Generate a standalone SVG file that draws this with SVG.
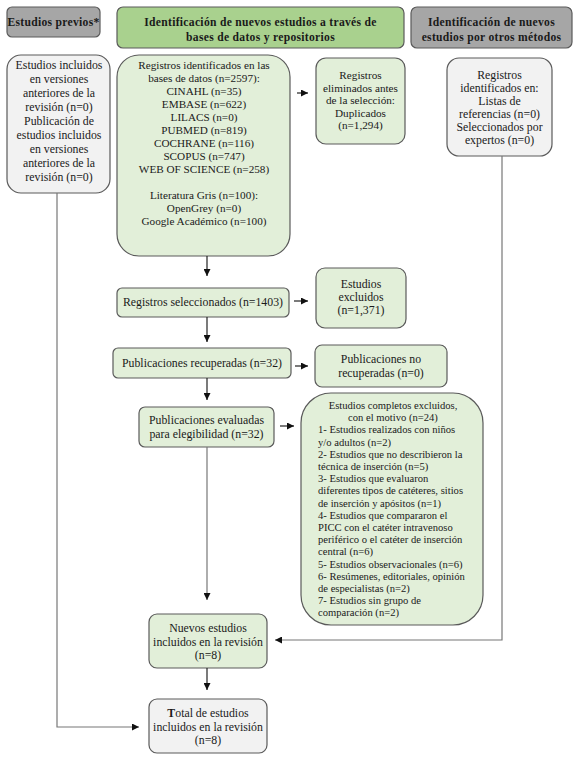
<svg xmlns="http://www.w3.org/2000/svg" width="578" height="757" viewBox="0 0 578 757">
<style>
text{font-family:"Liberation Serif","Times New Roman",serif;font-size:11.8px;fill:#1a1a1a}
.c{text-anchor:middle}
.h{font-weight:bold;font-size:11.6px;letter-spacing:0.3px}
.sm{font-size:10.6px}
.md{font-size:11.2px}
.hg{fill:#a9d18e;stroke:#5a5a5a;stroke-width:1.2}
.hd{fill:#a6a6a6;stroke:#5a5a5a;stroke-width:1.2}
.g{fill:#e2efd9;stroke:#5a5a5a;stroke-width:1.2}
.l{fill:#f2f2f2;stroke:#5a5a5a;stroke-width:1.2}
.cn{fill:none;stroke:#777;stroke-width:1.2}
.ar{fill:none;stroke:#222;stroke-width:1.2}
</style>
<defs>
<marker id="ah" markerUnits="userSpaceOnUse" markerWidth="8" markerHeight="7" refX="7" refY="3.5" orient="auto">
<path d="M0,0 L7,3.5 L0,7 z" fill="#111"/>
</marker>
</defs>
<rect width="578" height="757" fill="#ffffff"/>

<g id="hdr-previos">
<rect class="hd" x="7" y="7" width="93" height="30" rx="5"/>
<text class="c h" x="53.5" y="26">Estudios previos*</text>
</g>
<g id="hdr-bases">
<rect class="hg" x="117" y="7" width="287" height="41" rx="6"/>
<text class="c h" x="260.5" y="26">Identificación de nuevos estudios a través de</text>
<text class="c h" x="260.5" y="41">bases de datos y repositorios</text>
</g>
<g id="hdr-otros">
<rect class="hd" x="411" y="7" width="161" height="41" rx="6"/>
<text class="c h" x="491.5" y="26">Identificación de nuevos</text>
<text class="c h" x="491.5" y="41">estudios por otros métodos</text>
</g>

<g id="previos">
<rect class="l" x="7" y="55" width="103" height="138" rx="14"/>
<text class="c" x="59" y="69">Estudios incluidos</text>
<text class="c" x="59" y="83">en versiones</text>
<text class="c" x="59" y="97">anteriores de la</text>
<text class="c" x="59" y="111">revisión (n=0)</text>
<text class="c" x="59" y="125">Publicación de</text>
<text class="c" x="59" y="139">estudios incluidos</text>
<text class="c" x="59" y="153">en versiones</text>
<text class="c" x="59" y="167">anteriores de la</text>
<text class="c" x="59" y="181">revisión (n=0)</text>
</g>

<g id="identificados">
<rect class="g" x="117" y="55" width="173" height="201" rx="22"/>
<text class="c md" x="204" y="69">Registros identificados en las</text>
<text class="c md" x="204" y="82">bases de datos (n=2597):</text>
<text class="c md" x="204" y="95">CINAHL (n=35)</text>
<text class="c md" x="204" y="108">EMBASE (n=622)</text>
<text class="c md" x="204" y="121">LILACS (n=0)</text>
<text class="c md" x="204" y="134">PUBMED (n=819)</text>
<text class="c md" x="204" y="147">COCHRANE (n=116)</text>
<text class="c md" x="204" y="160">SCOPUS (n=747)</text>
<text class="c md" x="204" y="173">WEB OF SCIENCE (n=258)</text>
<text class="c md" x="204" y="199">Literatura Gris (n=100):</text>
<text class="c md" x="204" y="212">OpenGrey (n=0)</text>
<text class="c md" x="204" y="225">Google Académico (n=100)</text>
</g>

<g id="eliminados">
<rect class="g" x="316" y="58" width="89" height="86" rx="10"/>
<text class="c md" x="360.5" y="79">Registros</text>
<text class="c md" x="360.5" y="91.5">eliminados antes</text>
<text class="c md" x="360.5" y="104">de la selección:</text>
<text class="c md" x="360.5" y="116.5">Duplicados</text>
<text class="c md" x="360.5" y="129">(n=1,294)</text>
</g>

<g id="otros">
<rect class="l" x="447" y="58" width="105" height="98" rx="12"/>
<text class="c" x="499.5" y="79">Registros</text>
<text class="c" x="499.5" y="92">identificados en:</text>
<text class="c" x="499.5" y="105">Listas de</text>
<text class="c" x="499.5" y="118">referencias (n=0)</text>
<text class="c" x="499.5" y="131">Seleccionados por</text>
<text class="c" x="499.5" y="144">expertos (n=0)</text>
</g>

<g id="seleccionados">
<rect class="g" x="117" y="288" width="172" height="29" rx="5"/>
<text class="c" x="203" y="306">Registros seleccionados (n=1403)</text>
</g>

<g id="excluidos">
<rect class="g" x="316" y="268" width="90" height="60" rx="9"/>
<text class="c" x="361" y="288">Estudios</text>
<text class="c" x="361" y="301">excluidos</text>
<text class="c" x="361" y="314">(n=1,371)</text>
</g>

<g id="recuperadas">
<rect class="g" x="113" y="348" width="178" height="30" rx="5"/>
<text class="c" x="202" y="367">Publicaciones recuperadas (n=32)</text>
</g>

<g id="no-recuperadas">
<rect class="g" x="315" y="345" width="132" height="42" rx="7"/>
<text class="c" x="381" y="363">Publicaciones no</text>
<text class="c" x="381" y="377">recuperadas (n=0)</text>
</g>

<g id="evaluadas">
<rect class="g" x="139" y="407" width="135" height="40" rx="6"/>
<text class="c" x="206.5" y="424">Publicaciones evaluadas</text>
<text class="c" x="206.5" y="438">para elegibilidad (n=32)</text>
</g>

<g id="completos-excluidos">
<rect class="g" x="301" y="393" width="182" height="232" rx="30"/>
<text class="c sm" x="393" y="409">Estudios completos excluidos,</text>
<text class="c sm" x="393" y="421.2">con el motivo (n=24)</text>
<text class="sm" x="318" y="433.4">1- Estudios realizados con niños</text>
<text class="sm" x="318" y="445.6">y/o adultos (n=2)</text>
<text class="sm" x="318" y="457.8">2- Estudios que no describieron la</text>
<text class="sm" x="318" y="470">técnica de inserción (n=5)</text>
<text class="sm" x="318" y="482.2">3- Estudios que evaluaron</text>
<text class="sm" x="318" y="494.4">diferentes tipos de catéteres, sitios</text>
<text class="sm" x="318" y="506.6">de inserción y apósitos (n=1)</text>
<text class="sm" x="318" y="518.8">4- Estudios que compararon el</text>
<text class="sm" x="318" y="531">PICC con el catéter intravenoso</text>
<text class="sm" x="318" y="543.2">periférico o el catéter de inserción</text>
<text class="sm" x="318" y="555.4">central (n=6)</text>
<text class="sm" x="318" y="567.6">5- Estudios observacionales (n=6)</text>
<text class="sm" x="318" y="579.8">6- Resúmenes, editoriales, opinión</text>
<text class="sm" x="318" y="592">de especialistas (n=2)</text>
<text class="sm" x="318" y="604.2">7-  Estudios sin grupo de</text>
<text class="sm" x="318" y="616.4">comparación (n=2)</text>
</g>

<g id="nuevos">
<rect class="g" x="149" y="614" width="118" height="54" rx="8"/>
<text class="c" x="208" y="632">Nuevos estudios</text>
<text class="c" x="208" y="646">incluidos en la revisión</text>
<text class="c" x="208" y="659">(n=8)</text>
</g>

<g id="total">
<rect class="l" x="149" y="699" width="118" height="54" rx="8"/>
<text class="c" x="208" y="717"><tspan font-weight="bold">T</tspan>otal de estudios</text>
<text class="c" x="208" y="731">incluidos en la revisión</text>
<text class="c" x="208" y="744">(n=8)</text>
</g>

<g id="connectors">
<line class="ar" x1="207" y1="256" x2="207" y2="276" marker-end="url(#ah)"/>
<line class="ar" x1="297" y1="93" x2="308" y2="93" marker-end="url(#ah)"/>
<line class="ar" x1="294" y1="301" x2="308" y2="301" marker-end="url(#ah)"/>
<line class="ar" x1="207" y1="317" x2="207" y2="342" marker-end="url(#ah)"/>
<line class="ar" x1="295" y1="366" x2="308" y2="366" marker-end="url(#ah)"/>
<line class="ar" x1="207" y1="378" x2="207" y2="400" marker-end="url(#ah)"/>
<line class="ar" x1="280" y1="426" x2="294" y2="426" marker-end="url(#ah)"/>
<line class="cn" x1="207" y1="447" x2="207" y2="600" marker-end="url(#ah)"/>
<polyline class="cn" points="502,156 502,640 275,640" marker-end="url(#ah)"/>
<line class="ar" x1="207" y1="668" x2="207" y2="690" marker-end="url(#ah)"/>
<polyline class="cn" points="57,193 57,727 139,727" marker-end="url(#ah)"/>
</g>
</svg>
